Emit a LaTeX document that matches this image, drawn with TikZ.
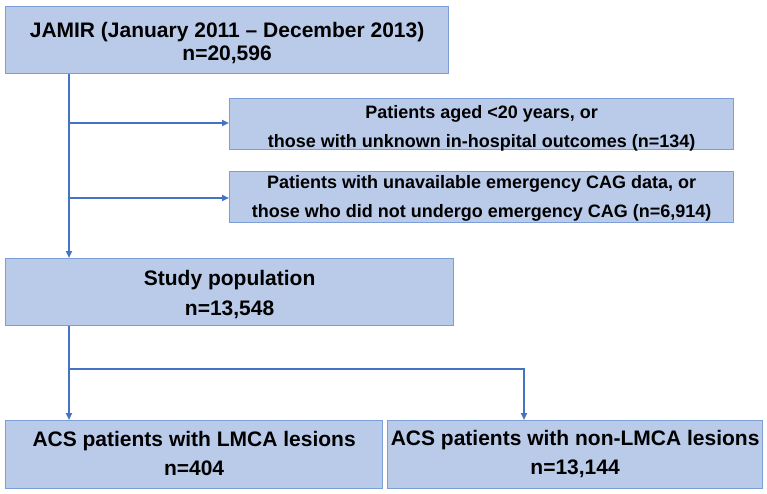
\documentclass[tikz,border=0pt]{standalone}
\usepackage{fontspec}
\setmainfont{Liberation Sans}
\usetikzlibrary{arrows.meta}
\definecolor{boxfill}{RGB}{186,203,234}
\definecolor{boxline}{RGB}{125,158,215}
\definecolor{arrowc}{RGB}{68,114,196}
\begin{document}
\begin{tikzpicture}[x=1pt,y=-1pt,
  flowbox/.style={draw=boxline, fill=boxfill, line width=1.2pt, rectangle, anchor=north west, inner sep=0pt},
  boxtext/.style={inner sep=0pt, align=center},
  bigtext/.style={boxtext, font=\bfseries\fontsize{21}{#1}\selectfont},
  smalltext/.style={boxtext, font=\bfseries\fontsize{18}{29}\selectfont},
  flowarrow/.style={draw=arrowc, line width=2pt, -{Triangle[length=7pt,width=6pt]}},
  flowline/.style={draw=arrowc, line width=2pt}]
\useasboundingbox (0,0) rectangle (767,493);
\fill[white] (0,0) rectangle (767,493);
% boxes
\node[flowbox, minimum width=443pt, minimum height=67pt] (jamir) at (5,6) {};
\node[flowbox, minimum width=504pt, minimum height=51pt] (ex1) at (229,98) {};
\node[flowbox, minimum width=504pt, minimum height=51pt] (ex2) at (229,171) {};
\node[flowbox, minimum width=448pt, minimum height=67pt] (study) at (5,258) {};
\node[flowbox, minimum width=377pt, minimum height=68pt] (lmca) at (5,420) {};
\node[flowbox, minimum width=375pt, minimum height=68pt] (nonlmca) at (387,420) {};
% texts
\node[bigtext=23] (jamirt) at ([yshift=-3pt]jamir.center) {JAMIR (January 2011 – December 2013)\\n=20,596};
\node[smalltext] (ex1t) at ([yshift=-4pt]ex1.center) {Patients aged <20 years, or\\those with unknown in-hospital outcomes (n=134)};
\node[smalltext] (ex2t) at ([yshift=-1pt]ex2.center) {Patients with unavailable emergency CAG data, or\\those who did not undergo emergency CAG (n=6,914)};
\node[bigtext=30] (studyt) at ([yshift=-2pt]study.center) {Study population\\n=13,548};
\node[bigtext=29] (lmcat) at ([yshift=1pt]lmca.center) {ACS patients with LMCA lesions\\n=404};
\node[bigtext=29] (nonlmcat) at ([yshift=1pt]nonlmca.center) {ACS patients with non-LMCA lesions\\n=13,144};
% connectors
\coordinate (b1) at (69,123);
\coordinate (b2) at (69,198);
\draw[flowarrow] (jamir.south -| b1) -- (b1 |- study.north);
\draw[flowarrow] (b1) -- (b1 -| ex1.west);
\draw[flowarrow] (b2) -- (b2 -| ex2.west);
\coordinate (b3) at (69,369);
\coordinate (b4) at (524,369);
\draw[flowline] (study.south -| b3) -- (b3);
\draw[flowarrow] (b3) -- (b3 |- lmca.north);
\draw[flowarrow] (b3) -- (b4) -- (b4 |- nonlmca.north);
\end{tikzpicture}
\end{document}
